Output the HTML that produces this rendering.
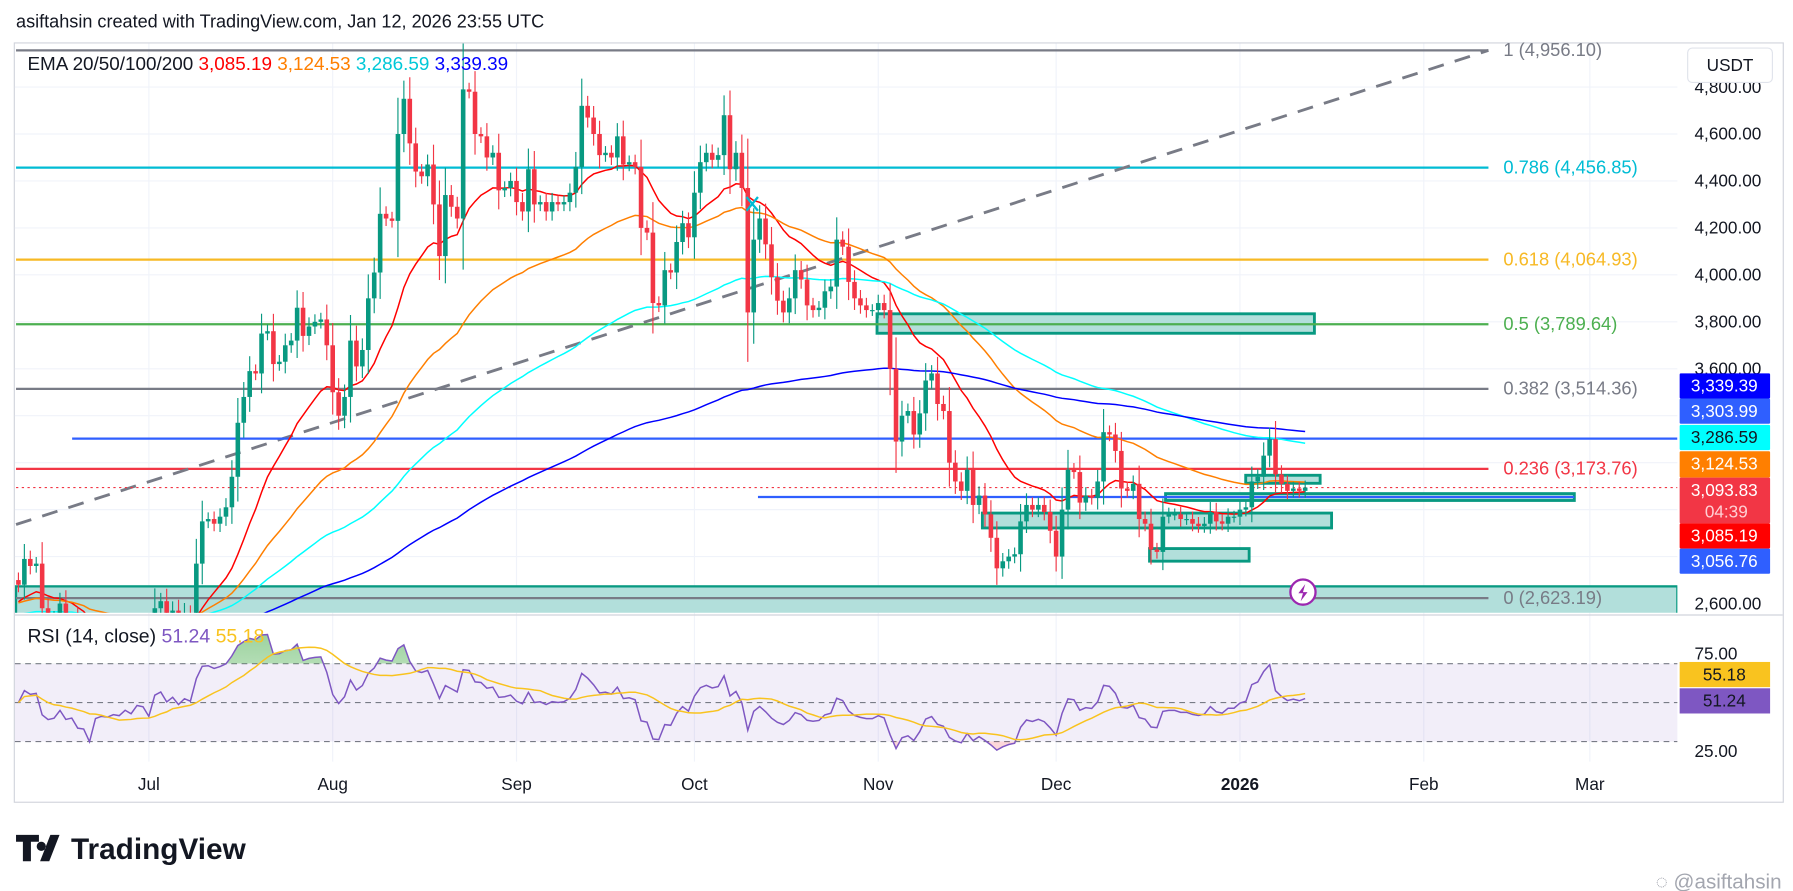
<!DOCTYPE html>
<html><head><meta charset="utf-8"><style>
html,body{margin:0;padding:0;background:#fff;width:1793px;height:891px;overflow:hidden}
svg{display:block;font-family:"Liberation Sans",sans-serif}
</style></head><body>
<svg id="c" width="1793" height="891" viewBox="0 0 1566 778" preserveAspectRatio="none" xmlns="http://www.w3.org/2000/svg">
<defs>
<clipPath id="pc"><rect x="13" y="38" width="1452" height="497"/></clipPath>
<clipPath id="rc"><rect x="13" y="538" width="1452" height="127"/></clipPath>
<clipPath id="ob"><rect x="13" y="538" width="1452" height="41.5"/></clipPath>
<clipPath id="os"><rect x="13" y="647.5" width="1452" height="20"/></clipPath>
<linearGradient id="gg" x1="0" y1="0" x2="0" y2="1"><stop offset="0" stop-color="#4caf50" stop-opacity=".55"/><stop offset="1" stop-color="#4caf50" stop-opacity=".05"/></linearGradient>
</defs>
<text x="14" y="24" font-size="15.8" fill="#131722">asiftahsin created with TradingView.com, Jan 12, 2026 23:55 UTC</text>
<rect x="12.5" y="37.5" width="1545" height="663" fill="none" stroke="#d1d4dc"/>
<g id="grid"></g>
<g id="price" clip-path="url(#pc)"></g>
<g id="rsi"></g>
<g id="axes"></g>
<text x="24" y="61" font-size="16.5"><tspan fill="#131722">EMA 20/50/100/200 </tspan><tspan fill="#ff0000">3,085.19 </tspan><tspan fill="#ff7f00">3,124.53 </tspan><tspan fill="#00c8d8">3,286.59 </tspan><tspan fill="#0000ff">3,339.39</tspan></text>
<text x="24" y="561" font-size="17"><tspan fill="#131722">RSI (14, close) </tspan><tspan fill="#7e57c2">51.24 </tspan><tspan fill="#f9c31f">55.18</tspan></text>
<g><rect x="1474" y="42" width="74" height="30" rx="4" fill="#fff" stroke="#e0e3eb"/><text x="1511" y="62" font-size="15" text-anchor="middle" fill="#131722">USDT</text></g>
<g><path d="M14 729h20v6h-7v17h-7v-17h-6z M36 735a4 4 0 1 0 .1 0z M44 729h8l-9 23h-8z" fill="#131722"/><text x="62" y="750" font-size="26" font-weight="bold" fill="#131722">TradingView</text></g>
<text x="1556" y="776" font-size="18" text-anchor="end" fill="#a3a6af">◌ @asiftahsin</text>
</svg>
<script>
const NS="http://www.w3.org/2000/svg";
const juneCloses=[2680,2790,2760,2770,2580,2530,2540,2600,2510,2520,2410,2400,2230,2410,2430,2420,2440,2430,2470,2440,2500,2490];
const julyCloses=[2410,2580,2610,2530,2570,2510,2560,2540,2770,2950,2960,2940,2970,3010,3140,3370,3480,3590,3580,3750,3760,3620,3630,3700,3720,3860,3740,3780,3800,3810,3700];
const augCloses=[3500,3400,3480,3720,3610,3680,3900,4010,4260,4240,4230,4600,4750,4560,4440,4420,4470,4300,4080,4340,4290,4240,4790,4780,4600,4590,4500,4520,4360,4370,4400];
const sepCloses=[4310,4270,4450,4300,4310,4270,4310,4300,4310,4350,4460,4720,4670,4600,4510,4520,4500,4590,4470,4480,4460,4200,4180,3880,3870,4020,4010,4140,4220,4160];
const octCloses=[4350,4480,4520,4490,4510,4680,4450,4520,4370,3840,4150,4240,4130,3990,3890,3840,3900,4020,3980,3870,3850,3860,3930,3950,4150,4120,3970,3900,3870,3850,3850];
const novCloses=[3880,3850,3600,3290,3400,3420,3320,3410,3550,3580,3450,3420,3200,3120,3080,3170,3020,3060,2980,2880,2750,2780,2800,2810,2950,3020,3000,3020,2990,2910];
const decCloses=[2800,3000,3170,3160,3030,3060,3050,3120,3330,3320,3250,3090,3080,3110,2960,2940,2830,2820,2970,2980,2980,2960,2960,2940,2930,2940,2990,2950,2940,2970,2970];
const janCloses=[3000,3010,3120,3140,3230,3300,3150,3110,3080,3090,3080,3094];
const closes=[].concat(juneCloses,julyCloses,augCloses,sepCloses,octCloses,novCloses,decCloses,janCloses);
const priceTicks=[4800,4600,4400,4200,4000,3800,3600,2600];
const monthLabels=["Jul","Aug","Sep","Oct","Nov","Dec","2026","Feb","Mar"];
const monthDayIdx=[22,53,84,114,145,175,206,237,265];
const fibLevels=[1,0.786,0.618,0.5,0.382,0.236,0];
const fibPrices=[4956.10,4456.85,4064.93,3789.64,3514.36,3173.76,2623.19];
const fibLabels=["1 (4,956.10)","0.786 (4,456.85)","0.618 (4,064.93)","0.5 (3,789.64)","0.382 (3,514.36)","0.236 (3,173.76)","0 (2,623.19)"];
const fibColors=["#787b86","#00bcd4","#f7b924","#4caf50","#787b86","#f23645","#787b86"];
const tagPrices=["3,339.39","3,303.99","3,286.59","3,124.53","3,093.83","3,085.19","3,056.76"];
const tagColors=["#0000ff","#2f5fff","#00ffff","#ff7f00","#f23645","#ff0000","#2f5fff"];
const tagY=[326,348,371,394,417,457,479];
const emaSeeds=[2600,2600,2550,2450];
const emaPeriods=[20,50,100,200];
const emaColors=["#ff0000","#ff7f00","#00ffff","#0000ff"];

const X=i=>16.1+i*5.179;
const Y=p=>527-(p-2600)*0.205;
const RY=r=>613.5-(r-50)*1.7;
function mk(tag,attrs,parent,name,inter){const e=document.createElementNS(NS,tag);for(const k in attrs)e.setAttribute(k,attrs[k]);


parent.appendChild(e);return e;}
const G=document.getElementById('grid'),P=document.getElementById('price'),R=document.getElementById('rsi'),A=document.getElementById('axes');
monthDayIdx.forEach((d,k)=>{mk('line',{x1:X(d),x2:X(d),y1:38,y2:665,stroke:'#f0f3fa'},G,'grid-vline-'+k);
 const t=mk('text',{x:X(d),y:690,'font-size':15,'text-anchor':'middle',fill:'#131722','font-weight':monthLabels[k]==='2026'?'bold':'normal'},A,'x-tick-'+monthLabels[k]);t.textContent=monthLabels[k];});
[4800,4600,4400,4200,4000,3800,3600,3400,3200,3000,2800,2600].forEach(p=>mk('line',{x1:13,x2:1465,y1:Y(p),y2:Y(p),stroke:'#f0f3fa'},G,'grid-hline'));
priceTicks.forEach(p=>{const t=mk('text',{x:1480,y:Y(p)+5,'font-size':15,fill:'#131722'},A,'y-tick-'+p);t.textContent=p.toLocaleString('en-US')+'.00';});
mk('line',{x1:13,x2:1557,y1:537,y2:537,stroke:'#d1d4dc'},A,'pane-separator');
mk('rect',{x:14,y:512,width:1451,height:25,fill:'#b2dfdb',stroke:'#089981','stroke-width':2},P,'demand-zone-bottom');
[[766,274,382,17],[1018,431,357,6],[858,448,305,13],[1004,479,87,11],[1088,415,65,7]].forEach((r,k)=>mk('rect',{x:r[0],y:r[1],width:r[2],height:r[3],fill:'#b2dfdb',stroke:'#089981','stroke-width':2.5},P,'zone-box-'+k));
fibPrices.forEach((p,k)=>{mk('line',{x1:14,x2:1300,y1:Y(p),y2:Y(p),stroke:fibColors[k],'stroke-width':2},P,'fib-line-'+fibLevels[k]);
 const t=mk('text',{x:1313,y:Y(p)+5,'font-size':16,fill:fibColors[k]},A,'fib-label-'+fibLevels[k]);t.textContent=fibLabels[k];});
mk('line',{x1:14,y1:458,x2:1300,y2:44,stroke:'#787b86','stroke-width':2.5,'stroke-dasharray':'14 10'},P,'trend-line-dashed');
mk('line',{x1:63,x2:1465,y1:383,y2:383,stroke:'#2f5fff','stroke-width':2},P,'resistance-line');
mk('line',{x1:662,x2:1375,y1:434,y2:434,stroke:'#2f5fff','stroke-width':2},P,'support-line');
mk('line',{x1:14,x2:1465,y1:Y(3093.83),y2:Y(3093.83),stroke:'#f23645','stroke-dasharray':'2 3'},P,'last-price-line');
emaPeriods.forEach((n,k)=>{let e=emaSeeds[k],a=2/(n+1),pts=[];closes.forEach((c,i)=>{e=e+a*(c-e);pts.push(X(i).toFixed(1)+','+Y(e).toFixed(1));});
 mk('polyline',{points:pts.join(' '),fill:'none',stroke:emaColors[k],'stroke-width':1.3},P,'ema-'+n);});
closes.forEach((c,i)=>{const o=i?closes[i-1]:c+20,up=c>=o,col=up?'#089981':'#f23645',b=Math.abs(c-o);
 const hi=Math.max(o,c)+b*0.35+25,lo=Math.min(o,c)-b*0.35-25,x=X(i);
 const g=mk('g',{},P,'candle',false);
 mk('line',{x1:x,x2:x,y1:Y(hi),y2:Y(lo),stroke:col,'stroke-width':1},g,'candle-wick');
 mk('rect',{x:x-2,y:Y(Math.max(o,c)),width:4,height:Math.max(1,b*0.205),fill:col},g,'candle-body');});
mk('path',{d:'M652 172 l10 12 M662 172 l-10 12',stroke:'#00bcd4','stroke-width':2,fill:'none'},P,'x-marker');
mk('rect',{x:13,y:RY(70),width:1452,height:RY(30)-RY(70),fill:'#7e57c2','fill-opacity':.1},R,'rsi-band');
[70,50,30].forEach(v=>mk('line',{x1:13,x2:1465,y1:RY(v),y2:RY(v),stroke:'#787b86','stroke-dasharray':'5 4'},R,'rsi-level-'+v));
let ag=30,al=30;const rsi=[50];for(let i=1;i<closes.length;i++){const d=closes[i]-closes[i-1];ag=(ag*13+Math.max(d,0))/14;al=(al*13+Math.max(-d,0))/14;rsi.push(100-100/(1+ag/al));}
const rma=rsi.map((v,i)=>{const s=rsi.slice(Math.max(0,i-13),i+1);return s.reduce((a,b)=>a+b,0)/s.length;});
const rp=rsi.map((v,i)=>X(i).toFixed(1)+','+RY(v).toFixed(1));
const rg=mk('g',{'clip-path':'url(#rc)'},R,'rsi-plot');
mk('polygon',{points:X(0)+','+RY(70)+' '+rp.join(' ')+' '+X(rsi.length-1)+','+RY(70),fill:'url(#gg)','clip-path':'url(#ob)'},rg,'rsi-overbought-fill');
mk('polygon',{points:X(0)+','+RY(30)+' '+rp.join(' ')+' '+X(rsi.length-1)+','+RY(30),fill:'#f23645','fill-opacity':.2,'clip-path':'url(#os)'},rg,'rsi-oversold-fill');
mk('polyline',{points:rp.join(' '),fill:'none',stroke:'#7e57c2','stroke-width':1.3},rg,'rsi-line');
mk('polyline',{points:rma.map((v,i)=>X(i).toFixed(1)+','+RY(v).toFixed(1)).join(' '),fill:'none',stroke:'#f9c31f','stroke-width':1.3},rg,'rsi-ma-line');
[[75,'75.00'],[25,'25.00']].forEach(a=>{const t=mk('text',{x:1480,y:RY(a[0])+5,'font-size':15,fill:'#131722'},A,'rsi-tick-'+a[0]);t.textContent=a[1];});
[['55.18','#f9c31f',578],['51.24','#7e57c2',601]].forEach(a=>{mk('rect',{x:1467,y:a[2],width:79,height:22,fill:a[1]},A,'rsi-tag-bg');const t=mk('text',{x:1506,y:a[2]+16,'font-size':15,'text-anchor':'middle',fill:'#131722'},A,'rsi-tag-'+a[0]);t.textContent=a[0];});
tagPrices.forEach((s,k)=>{const h=k===4?40:(k===3?23:22);mk('rect',{x:1467,y:tagY[k],width:79,height:h,fill:tagColors[k],rx:1},A,'price-tag-bg');
 const t=mk('text',{x:1506,y:tagY[k]+16,'font-size':15,'text-anchor':'middle',fill:k===2?'#131722':'#fff'},A,'price-tag-'+s);t.textContent=s;});
{const t=mk('text',{x:1489,y:452,'font-size':15,fill:'#ffd0d4'},A,'countdown-timer');t.textContent='04:39';}
mk('circle',{cx:1138,cy:517,r:11,fill:'#fff',stroke:'#9c27b0','stroke-width':2},A,'alert-icon',true);
mk('path',{d:'M1140 510 l-6 8 h4 l-2 7 l6 -8 h-4z',fill:'#9c27b0'},A,'alert-bolt');
</script>
</body></html>
